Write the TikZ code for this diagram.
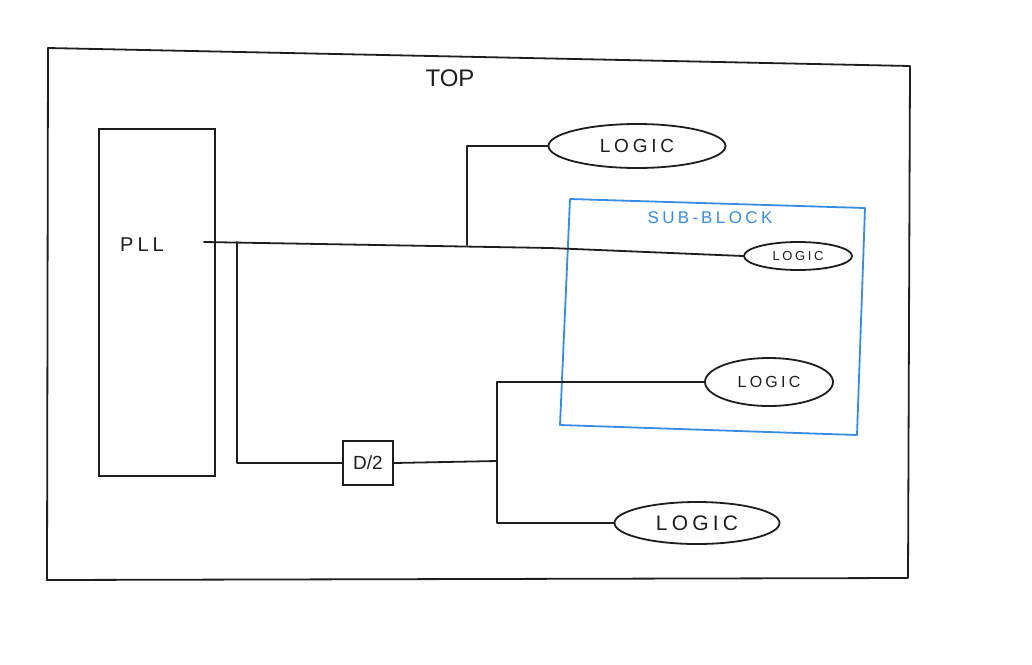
\documentclass[tikz,border=0pt]{standalone}
\usepackage{fontspec}
\setmainfont{Liberation Sans}
\usetikzlibrary{shapes.geometric}
\definecolor{ink}{RGB}{30,30,30}
\definecolor{subblue}{RGB}{55,140,230}
\newcommand{\wide}{\addfontfeature{LetterSpace=20}}
\tikzset{
  wire/.style={draw=ink, line width=1.8pt, line cap=round, line join=round},
  logicnode/.style={ellipse, draw=ink, line width=1.8pt, inner sep=0pt, text=ink},
  blocknode/.style={rectangle, draw=ink, line width=1.8pt, inner sep=0pt, text=ink},
}
\begin{document}
\begin{tikzpicture}[x=1pt,y=-1pt]
\useasboundingbox (0,0) rectangle (1032,664);
\fill[white] (0,0) rectangle (1032,664);
% TOP outer block
\draw[wire] (48,48) -- (910,66) -- (908,578) -- (47,580) -- cycle;
\node[text=ink, font=\fontsize{24}{26}\selectfont] (toplbl) at (450,78) {TOP};
% Sub-block
\draw[draw=subblue, line width=1.8pt, line join=round] (570,199) -- (865,208) -- (857,435) -- (560,425) -- cycle;
\node[text=subblue, font=\fontsize{17}{19}\selectfont\wide] (sublbl) at (710,218) {SUB-\,BLOCK};
% PLL
\node[blocknode, minimum width=116pt, minimum height=347pt, anchor=north west] (pll) at (98,128) {};
\node[text=ink, font=\fontsize{20}{22}\selectfont\wide] (plllbl) at (142,245) {PLL};
% Logic blocks
\node[logicnode, minimum width=177pt, minimum height=44pt, font=\fontsize{19}{21}\selectfont\wide] (l1) at (637,146) {LOGIC};
\node[logicnode, minimum width=108pt, minimum height=28pt, font=\fontsize{13}{15}\selectfont\wide] (l2) at (798,256) {LOGIC};
\node[logicnode, minimum width=128pt, minimum height=48pt, font=\fontsize{16}{18}\selectfont\wide] (l3) at (769,382) {LOGIC};
\node[logicnode, minimum width=165pt, minimum height=42pt, font=\fontsize{21}{23}\selectfont\wide] (l4) at (697,523) {LOGIC};
% Divider
\node[blocknode, minimum width=50pt, minimum height=44pt, font=\fontsize{19}{21}\selectfont] (div) at (368,463) {D/2};
% Connections
\coordinate (pllout) at (204,242);
\coordinate (bend) at (550,248);
\coordinate (t1) at (467,245);
\coordinate (t2) at (237,242);
\coordinate (br) at (497,461);
\draw[wire] (pllout) -- (bend) -- (l2.west);
\draw[wire] (t1) |- (l1.west);
\draw[wire] (t2) |- (div.west);
\draw[wire] (div.east) -- (br);
\draw[wire] (l3.west) -| (br);
\draw[wire] (br) |- (l4.west);
\end{tikzpicture}
\end{document}
